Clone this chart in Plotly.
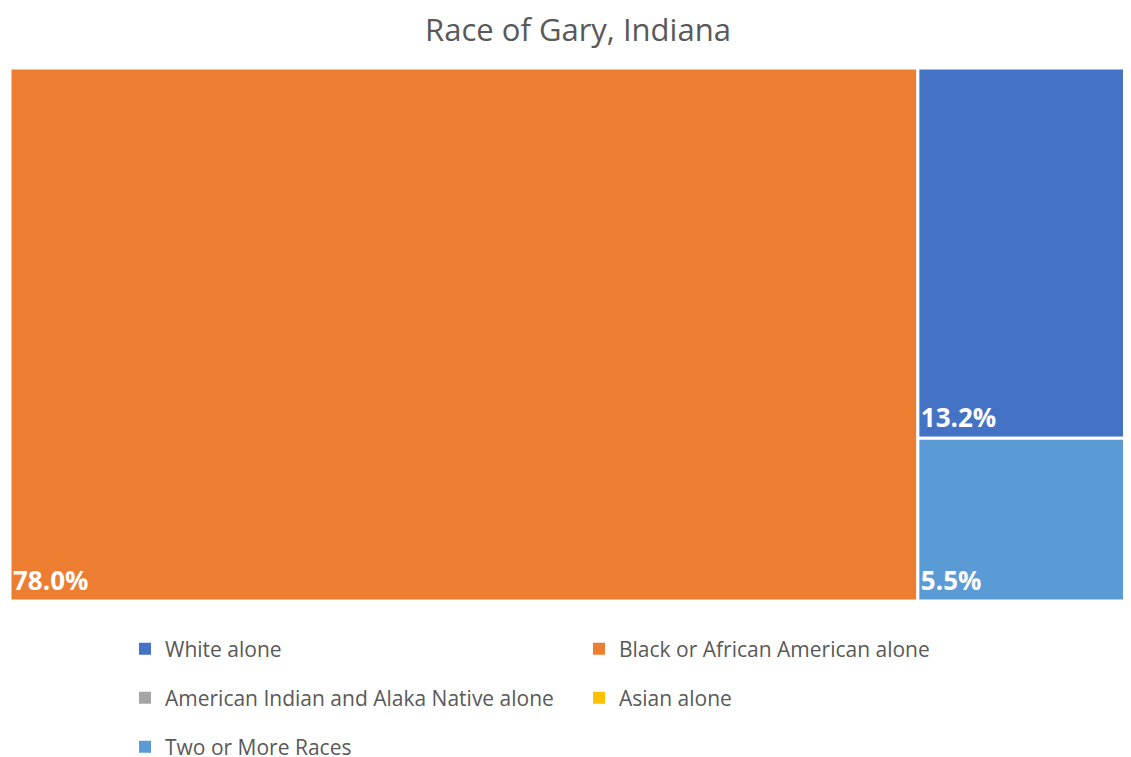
import plotly.graph_objects as go

categories = ["White alone", "Black or African American alone",
              "American Indian and Alaka Native alone", "Asian alone", "Two or More Races"]
values = [13.2, 78.0, 0.1, 0.2, 5.5]
colors = ["#4472C4", "#ED7D31", "#A5A5A5", "#FFC000", "#5B9BD5"]
legend_rows = ["legend", "legend", "legend2", "legend2", "legend3"]

labels_text = [f"<b>{v:.1f}%</b>" if v >= 1 else "" for v in values]

fig = go.Figure()
fig.add_trace(go.Treemap(
    labels=categories,
    parents=[""] * len(categories),
    values=values,
    text=labels_text,
    texttemplate="%{text}",
    textposition="bottom left",
    textfont=dict(family="Open Sans", size=26, color="white"),
    marker=dict(colors=colors, line=dict(color="white", width=3),
                pad=dict(t=0, l=0, r=0, b=0)),
    tiling=dict(packing="squarify", pad=0),
    pathbar=dict(visible=False),
    sort=True,
    hoverinfo="label+value",
    domain=dict(x=[0, 1], y=[0, 1]),
))

for name, col, lg in zip(categories, colors, legend_rows):
    fig.add_trace(go.Scatter(
        x=[None], y=[None], mode="markers", name=name,
        marker=dict(symbol="square", size=12, color=col),
        showlegend=True, legend=lg,
    ))

row_y = [641, 690, 739]
H = 757
W = 1131
leg_common = dict(orientation="h", xref="container", yref="container",
                  x=117 / W, xanchor="left", yanchor="middle",
                  entrywidth=409, entrywidthmode="pixels",
                  font=dict(family="Open Sans", size=21, color="#595959"),
                  bgcolor="rgba(0,0,0,0)", itemsizing="constant")

fig.update_layout(
    width=W, height=H,
    margin=dict(l=2, r=0, t=60, b=164, autoexpand=False),
    paper_bgcolor="white", plot_bgcolor="white",
    title=dict(text="Race of Gary, Indiana", x=570 / W, xanchor="center",
               y=1 - 22 / H, yanchor="middle", xref="container", yref="container",
               font=dict(family="Open Sans", size=31, color="#595959")),
    xaxis=dict(visible=False), yaxis=dict(visible=False),
    legend=dict(**leg_common, y=1 - row_y[0] / H),
    legend2=dict(**leg_common, y=1 - row_y[1] / H),
    legend3=dict(**leg_common, y=1 - row_y[2] / H),
)

fig.write_html("out.html")
